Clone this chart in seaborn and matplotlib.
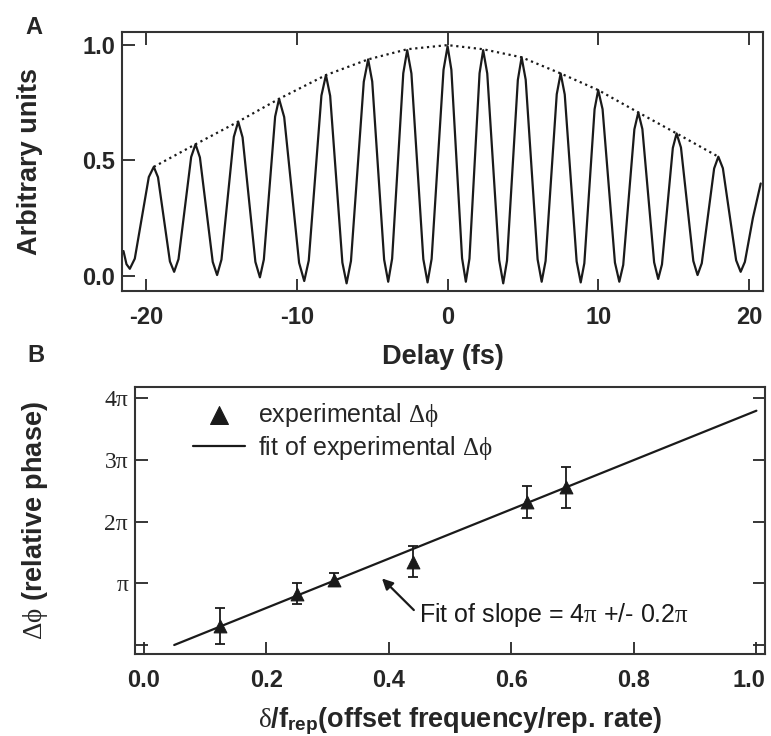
import matplotlib
matplotlib.use("Agg")
import matplotlib.pyplot as plt
import matplotlib.transforms as mtransforms
import seaborn as sns

# --- panel A: interferogram (turning points + shoulders) ---
delay_fs = [-21.5, -21.3, -21.08, -20.75, -19.82, -19.49, -19.21, -18.42, -18.14,
            -17.85, -17.01, -16.72, -16.43, -15.58, -15.29, -15.00, -14.18, -13.89,
            -13.60, -12.75, -12.45, -12.19, -11.44, -11.18, -10.84, -9.85, -9.51,
            -9.21, -8.37, -8.07, -7.79, -6.98, -6.70, -6.41, -5.56, -5.27,
            -5.00, -4.21, -3.94, -3.68, -2.94, -2.68, -2.40, -1.61, -1.33,
            -1.06, -0.27, 0.0, 0.25, 0.96, 1.21, 1.45, 2.12, 2.36,
            2.63, 3.42, 3.69, 3.94, 4.66, 4.91, 5.18, 5.97, 6.24,
            6.50, 7.24, 7.50, 7.77, 8.56, 8.83, 9.07, 9.75, 9.99,
            10.28, 11.10, 11.39, 11.65, 12.39, 12.65, 12.92, 13.70, 13.97,
            14.22, 14.94, 15.19, 15.48, 16.30, 16.58, 16.86, 17.68, 17.96,
            18.26, 19.14, 19.44, 19.72, 20.25, 20.77]
signal = [0.107, 0.05, 0.03, 0.074, 0.428, 0.472, 0.427, 0.062, 0.017,
          0.072, 0.515, 0.57, 0.513, 0.06, 0.003, 0.07, 0.602, 0.668,
          0.60, 0.06, -0.007, 0.07, 0.69, 0.767, 0.688, 0.056, -0.023,
          0.066, 0.781, 0.87, 0.78, 0.057, -0.033, 0.064, 0.841, 0.938,
          0.842, 0.07, -0.026, 0.074, 0.878, 0.978, 0.877, 0.072, -0.029,
          0.073, 0.893, 0.995, 0.893, 0.076, -0.026, 0.074, 0.878, 0.978,
          0.877, 0.068, -0.033, 0.065, 0.849, 0.947, 0.85, 0.071, -0.026,
          0.064, 0.787, 0.877, 0.786, 0.062, -0.029, 0.054, 0.722, 0.805,
          0.722, 0.057, -0.026, 0.047, 0.635, 0.708, 0.636, 0.058, -0.014,
          0.049, 0.554, 0.617, 0.556, 0.064, 0.003, 0.054, 0.465, 0.516,
          0.466, 0.067, 0.017, 0.06, 0.25, 0.40]

# dotted envelope through the fringe maxima
env_delay = [-19.49, -16.72, -13.89, -11.18, -8.07, -5.27, -2.68, 0.0, 2.36, 4.91,
             7.50, 9.99, 12.65, 15.19, 17.96]
env_value = [0.472, 0.57, 0.668, 0.767, 0.87, 0.938, 0.982, 1.0, 0.982, 0.947,
             0.877, 0.805, 0.708, 0.617, 0.516]

# --- panel B: phase vs offset frequency (in units of pi) ---
offset_ratio = [0.124, 0.250, 0.311, 0.439, 0.626, 0.689]
phase_pi = [0.31, 0.83, 1.06, 1.35, 2.32, 2.56]
phase_err_pi = [0.29, 0.17, 0.10, 0.25, 0.26, 0.33]
fit_ratio = [0.05, 1.0]
fit_phase_pi = [0.0, 3.80]

xticks_a = [-20, -10, 0, 10, 20]
yticks_a = [0.0, 0.5, 1.0]
xticks_b = [0.0, 0.2, 0.4, 0.6, 0.8, 1.0]
yticks_b = [0, 1, 2, 3, 4]
ylabels_b = ["", "π", "2π", "3π", "4π"]

sns.set_theme(style="ticks")
plt.rcParams['font.family'] = ['Liberation Sans', 'DejaVu Sans']
plt.rcParams['axes.unicode_minus'] = False
plt.rcParams['mathtext.fontset'] = 'custom'
plt.rcParams['mathtext.rm'] = 'Liberation Serif'
plt.rcParams['mathtext.it'] = 'Liberation Serif:italic'
plt.rcParams['mathtext.bf'] = 'Liberation Sans:bold'
plt.rcParams['mathtext.sf'] = 'Liberation Sans'

ink = '#1a1a1a'
fig = plt.figure(figsize=(7.71, 7.36), dpi=100)
axA = fig.add_axes([0.1582, 0.605, 0.831, 0.3519])
axB = fig.add_axes([0.1751, 0.1114, 0.8171, 0.3624])

# panel A
sns.lineplot(x=delay_fs, y=signal, ax=axA, color=ink, lw=1.6, sort=False, estimator=None)
sns.lineplot(x=env_delay, y=env_value, ax=axA, color=ink, lw=1.6, linestyle=':',
             sort=False, estimator=None)
axA.set_xlim(-21.6, 20.9)
axA.set_ylim(-0.065, 1.058)
axA.set_xticks(xticks_a, [str(t) for t in xticks_a], fontweight='bold', fontsize=17)
axA.set_yticks(yticks_a, ["0.0", "0.5", "1.0"], fontweight='bold', fontsize=17)
axA.tick_params(axis='x', direction='in', length=9, width=1.3, top=True, bottom=True, pad=11)
axA.tick_params(axis='y', direction='in', length=9, width=1.3, left=True, right=False, pad=5)
axA.set_xlabel("Delay (fs)", fontsize=19.5, fontweight='bold')
axA.set_ylabel("Arbitrary units", fontsize=19.5, fontweight='bold')
axA.xaxis.set_label_coords(0.501, -0.206)
axA.yaxis.set_label_coords(-0.123, 0.5)

# panel B
axB.errorbar(offset_ratio, phase_pi, yerr=phase_err_pi, fmt='none', ecolor=ink,
             elinewidth=1.3, capsize=3.5, capthick=1.3)
sns.scatterplot(x=offset_ratio, y=phase_pi, ax=axB, marker='^', s=85, color=ink,
                edgecolor=ink, label=r"experimental $\mathrm{\Delta\phi}$", zorder=3)
sns.lineplot(x=fit_ratio, y=fit_phase_pi, ax=axB, color=ink, lw=1.6,
             label=r"fit of experimental $\mathrm{\Delta\phi}$")
axB.set_xlim(-0.014, 1.014)
axB.set_ylim(-0.146, 4.18)
axB.set_xticks(xticks_b, [f"{t:.1f}" for t in xticks_b], fontweight='bold', fontsize=17)
axB.set_yticks(yticks_b, ylabels_b, fontfamily='Liberation Serif', fontsize=17)
axB.tick_params(axis='x', direction='in', length=9, width=1.3, top=False, bottom=True, pad=11)
axB.tick_params(axis='y', direction='in', length=9, width=1.3, left=True, right=True, pad=5)
# the last tick label sits on the figure edge; nudge it inside
last = axB.get_xticklabels()[-1]
last.set_transform(last.get_transform() +
                   mtransforms.ScaledTranslation(-7 / 100, 0, fig.dpi_scale_trans))
axB.set_xlabel(r"$\mathrm{\delta}$/f$_{\mathbf{rep}}$(offset frequency/rep. rate)",
               fontsize=19.5, fontweight='bold')
axB.set_ylabel(r"$\mathrm{\Delta\phi}$ (relative phase)", fontsize=19.5, fontweight='bold')
axB.xaxis.set_label_coords(0.516, -0.191)
axB.yaxis.set_label_coords(-0.135, 0.5)

handles, labels = axB.get_legend_handles_labels()
order = sorted(range(len(labels)), key=lambda i: 0 if labels[i].startswith("exp") else 1)
axB.legend([handles[i] for i in order], [labels[i] for i in order],
           loc='upper left', bbox_to_anchor=(0.092, 0.95), frameon=False, fontsize=18,
           borderaxespad=0, borderpad=0, handlelength=2.1, handletextpad=0.5,
           labelspacing=0.2, markerscale=1.4)

# slope note with its arrow
axB.annotate("", xy=(0.389, 1.08), xytext=(0.441, 0.567),
             arrowprops=dict(arrowstyle='-|>', color=ink, lw=1.6,
                             mutation_scale=16, shrinkA=0, shrinkB=0))
axB.text(0.449, 0.486, "Fit of slope = 4$\\mathrm{\\pi}$ +/- 0.2$\\mathrm{\\pi}$",
         fontsize=18, color=ink, va='center', ha='left')

for ax in (axA, axB):
    for sp in ax.spines.values():
        sp.set_linewidth(1.5)
        sp.set_color('#333333')
        sp.set_visible(True)

fig.text(34 / 771, 1 - 27 / 736, "A", fontsize=17, fontweight='bold', ha='center', va='center')
fig.text(36 / 771, 1 - 356 / 736, "B", fontsize=17, fontweight='bold', ha='center', va='center')

fig.savefig("out.png", dpi=100)
